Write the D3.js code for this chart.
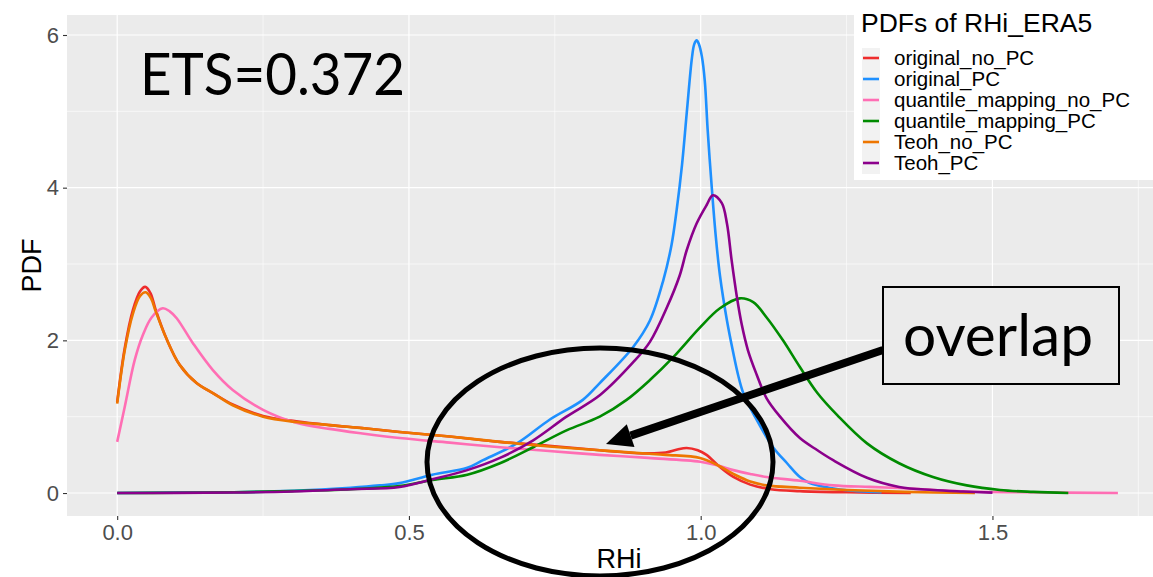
<!DOCTYPE html>
<html>
<head>
<meta charset="utf-8">
<script src="https://cdn.jsdelivr.net/npm/d3@7"></script>
<style>
  html, body { margin: 0; padding: 0; background: #fff; }
  svg { display: block; }
</style>
</head>
<body>
<div id="chart"></div>
<script>
// ── Data ──────────────────────────────────────────────────────────────────────

const seriesNames = [
  "original_no_PC",
  "original_PC",
  "quantile_mapping_no_PC",
  "quantile_mapping_PC",
  "Teoh_no_PC",
  "Teoh_PC",
];
const seriesColors = ["#EE2C2C", "#1E90FF", "#FF6EB4", "#008B00", "#EE7600", "#8B008B"];

// [RHi, PDF] pairs
const originalNoPC = [
  [0, 1.19], [0.013, 1.9], [0.027, 2.4], [0.039, 2.64], [0.048, 2.7], [0.057, 2.62],
  [0.066, 2.4], [0.084, 2.03], [0.107, 1.68], [0.136, 1.44], [0.164, 1.31], [0.198, 1.16],
  [0.25, 1.01], [0.307, 0.94], [0.364, 0.89], [0.42, 0.85], [0.484, 0.8], [0.57, 0.74],
  [0.656, 0.67], [0.74, 0.62], [0.827, 0.56], [0.9, 0.52], [0.94, 0.53], [0.96, 0.57],
  [0.976, 0.59], [0.995, 0.56], [1.01, 0.5], [1.033, 0.34], [1.056, 0.21], [1.085, 0.11],
  [1.12, 0.05], [1.17, 0.025], [1.25, 0.01], [1.36, 0],
];
const originalPC = [
  [0, 0], [0.1, 0.005], [0.2, 0.01], [0.3, 0.03], [0.4, 0.07], [0.45, 0.1], [0.484, 0.13],
  [0.54, 0.24], [0.6, 0.33], [0.627, 0.43], [0.685, 0.65], [0.741, 0.96], [0.798, 1.22],
  [0.827, 1.44], [0.884, 1.91], [0.913, 2.26], [0.936, 2.79], [0.95, 3.25], [0.959, 3.72],
  [0.968, 4.3], [0.976, 4.97], [0.985, 5.7], [0.989, 5.88], [0.993, 5.93], [0.997, 5.88],
  [1.002, 5.72], [1.007, 5.4], [1.012, 4.75], [1.019, 4.0], [1.026, 3.35], [1.033, 2.85],
  [1.045, 2.26], [1.056, 1.83], [1.064, 1.55], [1.073, 1.31], [1.093, 1.0], [1.124, 0.6],
  [1.148, 0.39], [1.17, 0.21], [1.187, 0.13], [1.22, 0.07], [1.26, 0.03], [1.31, 0.01],
];
const qmNoPC = [
  [0, 0.67], [0.013, 1.13], [0.03, 1.74], [0.044, 2.07], [0.059, 2.3], [0.078, 2.42],
  [0.09, 2.38], [0.102, 2.29], [0.13, 1.96], [0.164, 1.61], [0.198, 1.35], [0.25, 1.09],
  [0.307, 0.92], [0.364, 0.84], [0.42, 0.78], [0.484, 0.72], [0.57, 0.66], [0.656, 0.6],
  [0.74, 0.55], [0.827, 0.5], [0.91, 0.46], [0.999, 0.41], [1.03, 0.36], [1.056, 0.3],
  [1.085, 0.25], [1.113, 0.21], [1.17, 0.16], [1.227, 0.1], [1.29, 0.08], [1.34, 0.065],
  [1.4, 0.04], [1.456, 0.02], [1.55, 0.01], [1.715, 0],
];
const qmPC = [
  [0, 0], [0.1, 0.003], [0.2, 0.01], [0.3, 0.025], [0.4, 0.05], [0.484, 0.09], [0.54, 0.17],
  [0.6, 0.24], [0.656, 0.39], [0.713, 0.6], [0.77, 0.82], [0.827, 1.0], [0.873, 1.22],
  [0.913, 1.48], [0.953, 1.78], [0.999, 2.17], [1.033, 2.42], [1.067, 2.55], [1.09, 2.5],
  [1.113, 2.3], [1.141, 2.0], [1.17, 1.65], [1.2, 1.31], [1.234, 1.02], [1.285, 0.65],
  [1.34, 0.39], [1.398, 0.21], [1.456, 0.1], [1.513, 0.04], [1.57, 0.015], [1.63, 0],
];
const teohNoPC = [
  [0, 1.17], [0.013, 1.87], [0.027, 2.35], [0.039, 2.58], [0.049, 2.63], [0.058, 2.55],
  [0.066, 2.38], [0.084, 2.03], [0.107, 1.68], [0.136, 1.44], [0.164, 1.31], [0.198, 1.15],
  [0.25, 1.0], [0.307, 0.93], [0.364, 0.89], [0.42, 0.85], [0.484, 0.8], [0.57, 0.74],
  [0.656, 0.67], [0.74, 0.61], [0.827, 0.56], [0.9, 0.52], [0.94, 0.5], [0.999, 0.46],
  [1.03, 0.36], [1.056, 0.25], [1.085, 0.15], [1.113, 0.1], [1.17, 0.07], [1.25, 0.04],
  [1.35, 0.015], [1.47, 0],
];
const teohPC = [
  [0, 0], [0.1, 0.002], [0.2, 0.006], [0.3, 0.02], [0.4, 0.05], [0.484, 0.08], [0.54, 0.18],
  [0.6, 0.3], [0.656, 0.46], [0.713, 0.69], [0.77, 1.0], [0.827, 1.28], [0.884, 1.71],
  [0.913, 1.98], [0.942, 2.43], [0.964, 2.85], [0.976, 3.18], [0.993, 3.53], [1.01, 3.77],
  [1.021, 3.9], [1.036, 3.8], [1.045, 3.53], [1.053, 3.05], [1.062, 2.57], [1.07, 2.22],
  [1.081, 1.87], [1.096, 1.55], [1.113, 1.24], [1.136, 1.0], [1.17, 0.72], [1.2, 0.56],
  [1.227, 0.43], [1.285, 0.2], [1.34, 0.08], [1.398, 0.04], [1.45, 0.02], [1.5, 0.005],
];
const seriesData = [originalNoPC, originalPC, qmNoPC, qmPC, teohNoPC, teohPC];

const xTicks = [0, 0.5, 1, 1.5];
const xMinor = [0.25, 0.75, 1.25, 1.75];
const yTicks = [0, 2, 4, 6];
const yMinor = [1, 3, 5];

const legendTitle = "PDFs of RHi_ERA5";
const etsLabel = "ETS=0.372";
const calloutLabel = "overlap";

// ── Layout ───────────────────────────────────────────────────────────────────

const W = 1153, H = 577;
const panel = { left: 67, right: 1171, top: 15, bottom: 516 };

const svg = d3.select("#chart").append("svg")
  .attr("width", W)
  .attr("height", H)
  .style("font-family", "'Liberation Sans', Arial, sans-serif");

const x = d3.scaleLinear().domain([-0.086, 1.806]).range([panel.left, panel.right]);
const y = d3.scaleLinear().domain([-0.301, 6.262]).range([panel.bottom, panel.top]);

// ── Panel + grid
svg.append("rect")
  .attr("x", panel.left).attr("y", panel.top)
  .attr("width", panel.right - panel.left)
  .attr("height", panel.bottom - panel.top)
  .attr("fill", "#EBEBEB");

const grid = svg.append("g").attr("class", "grid");
grid.selectAll("line.xminor").data(xMinor).join("line")
  .attr("x1", d => x(d)).attr("x2", d => x(d))
  .attr("y1", panel.top).attr("y2", panel.bottom)
  .attr("stroke", "#fff").attr("stroke-width", 0.6);
grid.selectAll("line.yminor").data(yMinor).join("line")
  .attr("y1", d => y(d)).attr("y2", d => y(d))
  .attr("x1", panel.left).attr("x2", panel.right)
  .attr("stroke", "#fff").attr("stroke-width", 0.6);
grid.selectAll("line.xmajor").data(xTicks).join("line")
  .attr("x1", d => x(d)).attr("x2", d => x(d))
  .attr("y1", panel.top).attr("y2", panel.bottom)
  .attr("stroke", "#fff").attr("stroke-width", 1.2);
grid.selectAll("line.ymajor").data(yTicks).join("line")
  .attr("y1", d => y(d)).attr("y2", d => y(d))
  .attr("x1", panel.left).attr("x2", panel.right)
  .attr("stroke", "#fff").attr("stroke-width", 1.2);

// ── Axes
const xAxis = svg.append("g")
  .attr("transform", `translate(0,${panel.bottom})`)
  .call(d3.axisBottom(x).tickValues(xTicks).tickFormat(d3.format(".1f")).tickSize(4).tickPadding(4));
const yAxis = svg.append("g")
  .attr("transform", `translate(${panel.left},0)`)
  .call(d3.axisLeft(y).tickValues(yTicks).tickFormat(d3.format("d")).tickSize(4).tickPadding(4));

[xAxis, yAxis].forEach(a => {
  a.select(".domain").remove();
  a.selectAll(".tick line").attr("stroke", "#333").attr("stroke-width", 1.1);
  a.selectAll(".tick text")
    .attr("fill", "#4D4D4D")
    .style("font-size", "22px")
    .style("font-family", "'Liberation Sans', Arial, sans-serif");
});

svg.append("text")
  .attr("x", (panel.left + panel.right) / 2)
  .attr("y", 568)
  .attr("text-anchor", "middle")
  .style("font-size", "27px")
  .text("RHi");

svg.append("text")
  .attr("transform", `translate(41,${(panel.top + panel.bottom) / 2}) rotate(-90)`)
  .attr("text-anchor", "middle")
  .style("font-size", "27px")
  .text("PDF");

// ── Density lines
const line = d3.line()
  .x(d => x(d[0]))
  .y(d => y(d[1]))
  .curve(d3.curveCatmullRom.alpha(0.5));

svg.append("g").attr("class", "lines")
  .selectAll("path")
  .data(seriesData)
  .join("path")
  .attr("d", line)
  .attr("fill", "none")
  .attr("stroke", (d, i) => seriesColors[i])
  .attr("stroke-width", 2.6)
  .attr("stroke-linejoin", "round");

// ── Legend
const legend = svg.append("g").attr("class", "legend");
legend.append("rect")
  .attr("x", 854).attr("y", -2)
  .attr("width", 320).attr("height", 182)
  .attr("fill", "#fff");
legend.append("text")
  .attr("x", 861).attr("y", 32)
  .style("font-size", "26.5px")
  .text(legendTitle);
legend.append("rect")
  .attr("x", 862).attr("y", 48)
  .attr("width", 18).attr("height", 126)
  .attr("fill", "#F2F2F2");

const rowY = i => 58 + i * 21;
legend.selectAll("line.key").data(seriesNames).join("line")
  .attr("x1", 863).attr("x2", 879)
  .attr("y1", (d, i) => rowY(i)).attr("y2", (d, i) => rowY(i))
  .attr("stroke", (d, i) => seriesColors[i])
  .attr("stroke-width", 2.6);
legend.selectAll("text.item").data(seriesNames).join("text")
  .attr("x", 894)
  .attr("y", (d, i) => rowY(i) + 7)
  .style("font-size", "20.5px")
  .text(d => d);

// ── Annotations (ETS label, ellipse, arrow, callout box)
const annoFont = "Lato, 'Open Sans', sans-serif";

svg.append("text")
  .attr("x", 140).attr("y", 95)
  .attr("textLength", 265)
  .attr("lengthAdjust", "spacingAndGlyphs")
  .style("font-family", annoFont)
  .style("font-size", "58px")
  .text(etsLabel);

svg.append("ellipse")
  .attr("cx", 600).attr("cy", 462)
  .attr("rx", 173).attr("ry", 114)
  .attr("fill", "none")
  .attr("stroke", "#000")
  .attr("stroke-width", 5);

const tip = [606, 444], tail = [883, 350];
const ang = Math.atan2(tail[1] - tip[1], tail[0] - tip[0]);
const headLen = 26, headHalf = 12;
const base = [tip[0] + headLen * Math.cos(ang), tip[1] + headLen * Math.sin(ang)];
svg.append("line")
  .attr("x1", tail[0]).attr("y1", tail[1])
  .attr("x2", base[0]).attr("y2", base[1])
  .attr("stroke", "#000")
  .attr("stroke-width", 8);
svg.append("path")
  .attr("d", d3.line()([
    tip,
    [base[0] - headHalf * Math.sin(ang), base[1] + headHalf * Math.cos(ang)],
    [base[0] + headHalf * Math.sin(ang), base[1] - headHalf * Math.cos(ang)],
  ]) + "Z")
  .attr("fill", "#000");

svg.append("rect")
  .attr("x", 883).attr("y", 287)
  .attr("width", 236).attr("height", 97)
  .attr("fill", "#EBEBEB")
  .attr("stroke", "#000")
  .attr("stroke-width", 2);
svg.append("text")
  .attr("x", 903).attr("y", 356)
  .attr("textLength", 190)
  .attr("lengthAdjust", "spacingAndGlyphs")
  .style("font-family", annoFont)
  .style("font-size", "58px")
  .text(calloutLabel);
</script>
</body>
</html>
